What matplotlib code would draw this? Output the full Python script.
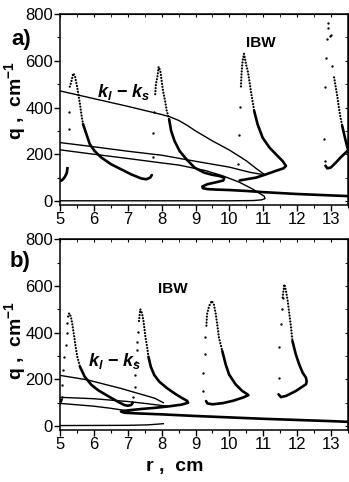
import matplotlib
matplotlib.use('Agg')
import matplotlib.pyplot as plt
from matplotlib.ticker import MultipleLocator

plt.rcParams['font.family'] = ['Liberation Sans', 'DejaVu Sans']
plt.rcParams['mathtext.fontset'] = 'custom'
plt.rcParams['mathtext.rm'] = 'Liberation Sans'
plt.rcParams['mathtext.it'] = 'Liberation Sans:italic'
plt.rcParams['mathtext.bf'] = 'Liberation Sans:bold'
plt.rcParams['mathtext.bfit'] = 'Liberation Sans:bold:italic'

# ---------------- Datos panel a) ----------------
a_kls_x = [5, 6, 7, 8, 8.25, 8.5, 8.75, 9, 9.5, 10, 10.5, 10.8, 11.03]
a_kls_q = [471, 438, 405, 370, 360, 345, 324, 300, 257, 218, 172, 138, 114]
a_l2_x = [5, 6, 7, 8, 9, 10, 10.6, 11.03]
a_l2_q = [250, 232, 213, 196, 170, 145, 123, 112]
a_l3_x = [5, 6, 7, 8, 8.5, 9.3, 9.8, 10.3, 10.7, 10.9, 11.03, 11.05, 10.95, 10.7, 10.0, 8.0, 5.0]
a_l3_q = [219, 200, 182, 163, 154, 130, 108, 80, 50, 32, 20, 10, 5, 2, 1, 1, 1]

# IBW: puntos sueltos, rama punteada cerca del pico, rama densa
a1_sx = [5.26, 5.26]
a1_sq = [307, 381]
a1_dx = [5.29, 5.34, 5.39, 5.44, 5.47, 5.51, 5.54, 5.59, 5.63, 5.68]
a1_dq = [489, 514, 546, 536, 514, 486, 457, 414, 371, 329]
a1_lx = [5.68, 5.78, 5.88, 6.02, 6.22, 6.51, 6.8, 7.1, 7.39, 7.54, 7.66, 7.71]
a1_lq = [329, 286, 243, 214, 186, 157, 136, 114, 97, 93, 100, 111]
a1_hx = [5.0, 5.05, 5.1, 5.15, 5.2, 5.22]
a1_hq = [86, 88, 95, 105, 120, 140]

a2_sx = [7.75, 7.75, 7.78]
a2_sq = [189, 289, 379]
a2_dx = [7.81, 7.83, 7.88, 7.91, 7.96, 8.0, 8.04, 8.1, 8.15, 8.22]
a2_dq = [457, 500, 536, 574, 557, 514, 471, 429, 386, 350]
a2_lx = [8.22, 8.28, 8.38, 8.53, 8.73, 8.97, 9.26, 9.5, 9.7, 9.85, 9.82, 9.6, 9.35, 9.2,
         9.22, 9.35, 9.6, 10.0, 10.5, 11.0, 11.5, 12.0, 12.5, 13.0, 13.5]
a2_lq = [350, 300, 257, 214, 179, 143, 121, 112, 107, 100, 88, 80, 72, 62,
         55, 51, 49, 47, 43, 38, 34, 30, 27, 24, 21]

a3_sx = [10.26, 10.29, 10.32]
a3_sq = [160, 283, 404]
a3_dx = [10.34, 10.36, 10.39, 10.43, 10.49, 10.54, 10.59, 10.64, 10.69, 10.73]
a3_dq = [490, 550, 600, 630, 586, 557, 514, 464, 421, 386]
a3_lx = [10.73, 10.83, 10.98, 11.18, 11.42, 11.57, 11.67, 11.6, 11.37, 11.08, 10.78, 10.5, 10.3]
a3_lq = [386, 329, 271, 229, 193, 171, 150, 140, 129, 114, 100, 93, 88]

a4_sx = [12.81, 12.79, 12.82, 12.86, 12.87, 12.91, 12.92, 12.96, 12.99, 13.04]
a4_sq = [171, 267, 486, 611, 693, 740, 760, 707, 711, 579]
a4_dx = [13.09, 13.14, 13.19, 13.23, 13.28, 13.33]
a4_dq = [529, 486, 443, 400, 357, 321]
a4_lx = [13.33, 13.41, 13.48, 13.55]
a4_lq = [321, 271, 229, 200]
a4_hx = [12.84, 12.89, 12.99, 13.14, 13.28, 13.48, 13.55]
a4_hq = [150, 140, 143, 164, 186, 214, 222]

# ---------------- Datos panel b) ----------------
b_kls_x = [5, 5.8, 6.8, 7.8, 8.05]
b_kls_q = [217, 198, 161, 119, 100]
b_l2_x = [5, 6, 7, 7.5, 8, 8.2]
b_l2_q = [123, 117, 105, 97, 88, 85]
b_l3_x = [5, 6, 6.5, 7.0]
b_l3_q = [97, 85, 76, 65]
b_l0_x = [5, 7, 7.6, 8.05]
b_l0_q = [2, 3, 5, 10]

b1_sx = [5.05, 5.07, 5.1, 5.13, 5.17, 5.2, 5.22]
b1_sq = [126, 176, 240, 297, 347, 397, 440]
b1_dx = [5.24, 5.27, 5.32, 5.36, 5.39, 5.42, 5.46, 5.51, 5.59]
b1_dq = [469, 483, 469, 440, 411, 383, 340, 297, 254]
b1_lx = [5.59, 5.73, 5.93, 6.12, 6.41, 6.71, 6.9, 7.0, 7.1, 7.15]
b1_lq = [254, 211, 176, 154, 129, 104, 90, 87, 90, 100]
b1_hx = [5.0, 5.02, 5.04]
b1_hq = [97, 104, 112]

b2_sx = [7.12, 7.15, 7.2, 7.22, 7.24, 7.26, 7.28, 7.3]
b2_sq = [104, 126, 169, 219, 276, 326, 361, 404]
b2_dx = [7.33, 7.37, 7.42, 7.46, 7.49, 7.52, 7.57, 7.61]
b2_dq = [450, 500, 483, 454, 419, 383, 340, 297]
b2_lx = [7.61, 7.68, 7.78, 7.93, 8.17, 8.4, 8.6, 8.75, 8.78, 8.6, 8.2, 7.8, 7.4, 7.0, 6.8,
         6.9, 7.3, 8.0, 9.0, 10.0, 11.0, 12.0, 13.0, 13.5]
b2_lq = [297, 254, 219, 190, 161, 138, 120, 108, 100, 92, 84, 78, 73, 67, 62,
         57, 54, 50, 43, 37, 31, 26, 21, 18]

b3_sx = [9.21, 9.23, 9.27, 9.29]
b3_sq = [150, 229, 309, 381]
b3_dx = [9.32, 9.34, 9.4, 9.48, 9.54, 9.59, 9.64, 9.69, 9.79]
b3_dq = [430, 479, 514, 536, 521, 486, 436, 379, 321]
b3_lx = [9.79, 9.89, 9.99, 10.18, 10.38, 10.53, 10.56, 10.4, 10.1, 9.8, 9.5, 9.35, 9.31]
b3_lq = [321, 264, 221, 179, 150, 136, 132, 122, 108, 98, 93, 97, 107]

b4_sx = [11.45, 11.47, 11.52, 11.54, 11.57]
b4_sq = [207, 339, 436, 500, 550]
b4_dx = [11.57, 11.62, 11.67, 11.72, 11.77, 11.82, 11.86]
b4_dq = [550, 607, 579, 536, 479, 421, 364]
b4_lx = [11.86, 11.96, 12.06, 12.16, 12.26, 12.28, 12.26, 11.96, 11.67, 11.52, 11.45]
b4_lq = [364, 307, 264, 229, 207, 190, 179, 150, 129, 124, 136]

x_ticks = [5, 6, 7, 8, 9, 10, 11, 12, 13]
y_ticks = [0, 200, 400, 600, 800]


def dibujar_ibw(ax, sx, sq, dx, dq, lx, lq):
    # puntos sueltos, tramo punteado y tramo denso de una rama IBW
    ax.plot(sx, sq, 'o', color='black', markersize=1.7, markeredgewidth=0)
    ax.plot(dx, dq, color='black', lw=1.6, linestyle=(0, (0.05, 1.3)),
            dash_capstyle='round')
    ax.plot(lx, lq, color='black', lw=1.9, solid_capstyle='round')


def preparar_ejes(ax):
    ax.set_xlim(5, 13.5)
    ax.set_ylim(-17, 800)
    ax.set_xticks(x_ticks)
    ax.set_yticks(y_ticks)
    ax.xaxis.set_minor_locator(MultipleLocator(0.5))
    ax.yaxis.set_minor_locator(MultipleLocator(100))
    ax.tick_params(which='major', direction='out', length=4, width=1,
                   labelsize=12, pad=1)
    ax.tick_params(which='minor', direction='out', length=2, width=0.8)
    for s in ax.spines.values():
        s.set_linewidth(1.1)
    top = ax.secondary_xaxis('top')
    top.set_xticks(x_ticks)
    top.xaxis.set_minor_locator(MultipleLocator(0.5))
    top.tick_params(which='both', direction='in', labeltop=False, length=2.5)
    right = ax.secondary_yaxis('right')
    right.set_yticks(y_ticks)
    right.yaxis.set_minor_locator(MultipleLocator(100))
    right.tick_params(which='both', direction='in', labelright=False, length=2.5)


fig = plt.figure(figsize=(3.49, 4.82), dpi=100)
ax1 = fig.add_axes([60 / 349, 1 - 205 / 482, 288 / 349, 191 / 482])
ax2 = fig.add_axes([60 / 349, 1 - 430 / 482, 288 / 349, 190.7 / 482])

# Panel a)
lw_t = 1.0
ax1.plot(a_kls_x, a_kls_q, color='black', lw=lw_t)
ax1.plot(a_l2_x, a_l2_q, color='black', lw=lw_t)
ax1.plot(a_l3_x, a_l3_q, color='black', lw=lw_t)
ax1.plot(a1_hx, a1_hq, color='black', lw=1.9)
ax1.plot(a4_hx, a4_hq, color='black', lw=1.9)
dibujar_ibw(ax1, a1_sx, a1_sq, a1_dx, a1_dq, a1_lx, a1_lq)
dibujar_ibw(ax1, a2_sx, a2_sq, a2_dx, a2_dq, a2_lx, a2_lq)
dibujar_ibw(ax1, a3_sx, a3_sq, a3_dx, a3_dq, a3_lx, a3_lq)
dibujar_ibw(ax1, a4_sx, a4_sq, a4_dx, a4_dq, a4_lx, a4_lq)
ax1.text(10.94, 676, 'IBW', fontsize=11, fontweight='bold', ha='center', va='center')
ax1.text(6.1, 445, r'$\mathbfit{k}_{\mathbfit{l}}\ \mathbf{-}\ \mathbfit{k}_{\mathbfit{s}}$',
         fontsize=13, ha='left', va='baseline')
preparar_ejes(ax1)

# Panel b)
ax2.plot(b_kls_x, b_kls_q, color='black', lw=lw_t)
ax2.plot(b_l2_x, b_l2_q, color='black', lw=lw_t)
ax2.plot(b_l3_x, b_l3_q, color='black', lw=lw_t)
ax2.plot(b_l0_x, b_l0_q, color='black', lw=lw_t)
ax2.plot(b1_hx, b1_hq, color='black', lw=1.9)
dibujar_ibw(ax2, b1_sx, b1_sq, b1_dx, b1_dq, b1_lx, b1_lq)
dibujar_ibw(ax2, b2_sx, b2_sq, b2_dx, b2_dq, b2_lx, b2_lq)
dibujar_ibw(ax2, b3_sx, b3_sq, b3_dx, b3_dq, b3_lx, b3_lq)
dibujar_ibw(ax2, b4_sx, b4_sq, b4_dx, b4_dq, b4_lx, b4_lq)
ax2.text(8.34, 587, 'IBW', fontsize=11, fontweight='bold', ha='center', va='center')
ax2.text(5.83, 257, r'$\mathbfit{k}_{\mathbfit{l}}\ \mathbf{-}\ \mathbfit{k}_{\mathbfit{s}}$',
         fontsize=13, ha='left', va='baseline')
preparar_ejes(ax2)

# Etiquetas
fig.text(21 / 349, 1 - 39 / 482, 'a)', fontsize=16, fontweight='bold', ha='center', va='center')
fig.text(20 / 349, 1 - 262 / 482, 'b)', fontsize=16, fontweight='bold', ha='center', va='center')
fig.text(15 / 349, 1 - 100 / 482, r'q ,  cm$^{\mathbf{-1}}$', fontsize=14, fontweight='bold',
         rotation=90, ha='center', va='center')
fig.text(15 / 349, 1 - 340 / 482, r'q ,  cm$^{\mathbf{-1}}$', fontsize=14, fontweight='bold',
         rotation=90, ha='center', va='center')
fig.text(175 / 349, 1 - 467 / 482, 'r ,  cm', fontsize=14, fontweight='bold',
         ha='center', va='center')

fig.savefig('out.png', dpi=100)
